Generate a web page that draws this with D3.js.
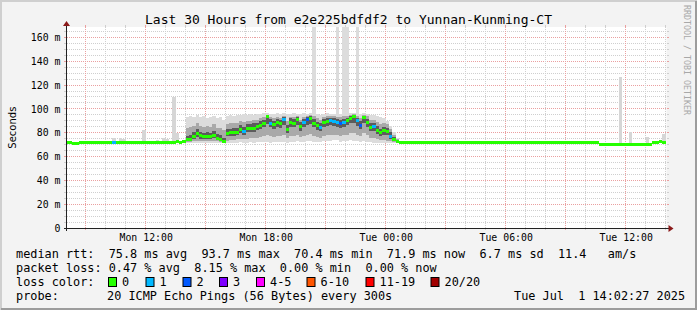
<!DOCTYPE html>
<html>
<head>
<meta charset="utf-8">
<script src="https://cdn.jsdelivr.net/npm/d3@7"></script>
<style>
  body { margin: 0; background: #f3f3f3; }
  svg { display: block; }
  text { font-family: "DejaVu Sans Mono", monospace; fill: #000; }
</style>
</head>
<body>
<svg id="chart" width="697" height="310"></svg>
<script>
/******** Data ********/
var startTime = new Date(2025, 5, 30, 8, 2, 27);
var endTime = new Date(2025, 6, 1, 14, 2, 27);
var firstSample = new Date(2025, 5, 30, 8, 0, 0);
var stepMinutes = 10;

// median rtt in ms, one value per 10 minutes
var median = [
  72.0, 72.0, 71.3, 71.3, 72.0, 72.1, 72.0, 72.0, 72.1, 72.0, 72.0, 71.9,
  72.0, 72.0, 72.0, 72.0, 72.1, 72.0, 71.9, 72.0, 72.0, 72.0, 71.9, 72.0,
  72.1, 72.0, 72.0, 71.8, 72.0, 72.0, 72.2, 72.0, 72.1, 72.3, 72.2, 72.4,
  74.5, 74.5, 77.0, 79.5, 77.5, 76.5, 77.0, 76.5, 78.0, 75.5, 74.5, 72.5,
  79.5, 80.0, 80.0, 80.5, 83.0, 81.0, 83.5, 83.5, 84.0, 85.0, 86.5, 88.0,
  93.5, 88.0, 87.0, 88.5, 87.5, 91.0, 82.5, 89.0, 88.0, 90.9, 85.3, 88.5,
  91.0, 92.0, 88.0, 85.8, 84.6, 88.5, 89.3, 90.0, 89.5, 88.7, 87.5, 88.7,
  90.0, 92.0, 93.7, 90.0, 86.5, 92.5, 89.0, 84.6, 85.0, 82.3, 80.1, 81.7,
  81.0, 77.3, 74.4, 72.5,
  71.7, 71.6, 71.6, 71.7, 71.6, 71.7, 71.6, 71.6, 71.7, 71.6, 71.7, 71.7,
  71.6, 71.7, 71.7, 71.6, 71.7, 71.7, 71.6, 71.7, 71.8, 71.7, 71.7, 71.8,
  71.7, 71.8, 71.7, 71.8, 71.8, 71.7, 71.8, 71.9, 71.8, 71.8, 71.9, 71.8,
  71.9, 71.8, 71.9, 71.9, 71.8, 71.9, 72.0, 71.9, 71.9, 72.0, 71.9, 72.0,
  72.0, 71.9, 72.0, 72.0, 71.9, 72.0, 72.0, 71.9, 72.0, 72.0, 72.1, 72.0,
  70.6, 70.6, 70.5, 70.6, 70.6, 70.5, 70.6, 70.6, 70.5, 70.6, 70.5, 70.6,
  70.6, 70.5, 70.6, 70.6, 71.8, 71.9, 72.4, 71.9
];

// lost pings (out of 20) per sample
var loss = [
  0,0,0,0,0,0,0,0,0,0, 0,0,0,0,1,0,0,0,0,0,
  0,0,0,0,0,0,0,0,0,0, 0,0,0,0,0,0,0,0,0,0,
  0,0,0,0,0,0,0,0,0,0, 0,0,0,1,0,0,0,0,0,0,
  0,1,0,0,0,1,0,0,0,0, 0,1,2,0,0,0,1,0,0,1,
  1,1,2,1,0,0,0,1,2,0, 0,0,1,0,0,0,0,1,0,0,
  0,0,0,0,0,0,0,0,0,0, 0,0,0,0,0,0,0,0,0,0,
  0,0,0,0,0,0,0,0,0,0, 0,0,0,0,0,0,0,0,0,0,
  0,0,0,0,0,0,0,0,0,0, 0,0,0,0,0,0,0,0,0,0,
  0,0,0,0,0,0,0,0,0,0, 0,0,0,0,0,0,0,0,0,0
];

// smoke (ping spread) for the busy period, starting at sample 36
var busyStart = 36;
var smokeMax = [
  93, 94, 93, 95, 93, 94, 92, 93, 94, 92, 93, 91,
  94, 95, 94, 95, 95, 96, 95, 96, 95, 96, 96, 97,
  97, 96, 96, 97, 96, 97, 96, 96, 97, 96, 96, 97,
  96, 97, 200, 96, 95, 96, 97, 96, 96, 200, 96, 200,
  200, 97, 97, 200, 96, 97, 96, 95, 95, 94, 93, 92,
  90, 86, 81, 76
];
var smokeMin = [
  71.5, 71.5, 71.8, 71.5, 71.6, 71.5, 71.8, 71.6, 71.5, 71.7, 71.5, 71.4,
  71.6, 71.8, 71.5, 71.7, 72.0, 71.6, 71.8, 72.0, 71.7, 71.9, 72.2, 72.0,
  72.3, 71.8, 72.0, 72.4, 72.0, 72.5, 71.6, 72.2, 72.6, 72.8, 72.0, 72.4,
  73.0, 73.2, 72.5, 72.2, 72.0, 72.8, 73.5, 73.0, 74.0, 73.6, 72.5, 73.0,
  73.4, 74.0, 73.5, 72.8, 72.2, 73.0, 72.6, 72.0, 71.8, 71.6, 71.5, 71.4,
  71.3, 71.2, 71.2, 71.2
];
var smokeP10 = [
  72.5, 72.5, 73, 73.5, 73, 72.8, 73, 73, 73.5, 72.8, 72.5, 72,
  73.5, 74, 74, 74.5, 75, 74.5, 75, 75.5, 75.5, 76, 76.5, 77,
  78, 77, 76.5, 77.5, 77, 78, 75.5, 77.5, 77.5, 78.5, 76.5, 77.5,
  78.5, 79, 77.5, 76.5, 76, 77.5, 78, 78.5, 78.5, 78, 77.5, 78,
  78.5, 79.5, 80, 78.5, 77, 79.5, 78, 76, 76, 75, 74, 74,
  73.5, 73, 72.3, 71.8
];
var smokeP90 = [
  84, 85, 86, 88, 86, 85, 86, 85, 87, 84, 84, 82,
  87, 88, 88, 88, 90, 89, 90, 90, 91, 91, 92, 93,
  95, 93, 92, 93, 92, 94, 90, 93, 93, 94, 91, 93,
  94, 95, 94, 92, 91, 93, 94, 94, 94, 93, 93, 94,
  94, 95, 96, 94, 92, 95, 94, 91, 91, 89, 87, 88,
  87, 83, 78, 74.5
];
var smokeP30 = [
  73.2, 73.3, 74.8, 76.5, 75, 74.4, 75, 74.6, 75.8, 73.9, 73.3, 72.4,
  77, 77.5, 77.6, 78, 80, 78.5, 80.6, 80.8, 81, 82, 83.5, 84.8,
  87.5, 84.5, 83.6, 84.8, 84, 86.8, 79.5, 85.2, 84.6, 86.5, 81.8, 84.6,
  86.8, 87.5, 84.5, 82.5, 81.6, 85, 85.6, 86.2, 85.8, 85, 84, 85.2,
  86.2, 87.8, 88.6, 86, 83, 87.8, 85, 81.2, 81.4, 79, 77.5, 78.4,
  77.8, 75, 72.8, 71.9
];
var smokeP70 = [
  77.5, 78, 80.5, 83, 81, 80, 80.5, 79.5, 81.5, 79, 78, 76,
  83, 83.5, 83.8, 84.2, 86.5, 85, 87, 87, 87.8, 88.5, 89.8, 91,
  94.8, 91.3, 90.2, 91.6, 90.8, 93.4, 86.5, 92, 91.2, 93, 88.8, 91.6,
  93.5, 94, 91.3, 89.4, 88.2, 91.6, 92.2, 92.6, 92.3, 91.7, 90.8, 91.8,
  92.8, 94.2, 95.2, 92.8, 89.8, 94.4, 91.8, 88, 88.3, 85.8, 83.6, 85,
  84.2, 80.5, 76.5, 73.5
];

// isolated slow pings outside the busy period
var spikeIdx = [14, 16, 17, 23, 27, 29, 30, 32, 33, 166, 169, 174, 179];
var spikeMax = [75.5, 76, 75, 82, 74, 76, 75, 110, 80, 127, 81, 76.7, 79];

var lossLabels = ["0", "1", "2", "3", "4-5", "6-10", "11-19", "20/20"];
var lossColors = ["#26ff00", "#00b8ff", "#0059ff", "#7e00ff", "#ff00ff", "#ff5500", "#ff0000", "#a10000"];
var lossBoxX = [108, 145.5, 182.5, 219, 256, 306.5, 365.5, 430.5];

var yTicks = [0, 20, 40, 60, 80, 100, 120, 140, 160];

var legendLines = [
  "median rtt:  75.8 ms avg  93.7 ms max  70.4 ms min  71.9 ms now  6.7 ms sd  11.4   am/s",
  "packet loss: 0.47 % avg  8.15 % max  0.00 % min  0.00 % now"
];

/******** Layout ********/
var plotLeft = 66.5, plotRight = 666.5, plotTop = 27, plotBottom = 228.3;

var x = d3.scaleTime().domain([startTime, endTime]).range([plotLeft, plotRight]);
var y = d3.scaleLinear().domain([0, 160]).range([plotBottom, 37.3]);

var svg = d3.select("#chart");

function crisp(v) { return Math.round(v - 0.5) + 0.5; }
function sampleTime(i) { return new Date(firstSample.getTime() + i * stepMinutes * 60000); }
function lossColor(n) {
  if (n <= 3) return lossColors[n];
  if (n <= 5) return lossColors[4];
  if (n <= 10) return lossColors[5];
  if (n <= 19) return lossColors[6];
  return lossColors[7];
}

// frame
svg.append("rect").attr("width", 697).attr("height", 310).attr("fill", "#f3f3f3");
svg.append("path").attr("d", "M1,310V1H697").attr("fill", "none").attr("stroke", "#cfcfcf").attr("stroke-width", 2);
svg.append("path").attr("d", "M1,309H696V1").attr("fill", "none").attr("stroke", "#9c9c9c").attr("stroke-width", 2);

// canvas
svg.append("rect")
  .attr("x", plotLeft).attr("y", plotTop)
  .attr("width", plotRight - plotLeft).attr("height", plotBottom - plotTop)
  .attr("fill", "#ffffff");

/******** Grid ********/
var grid = svg.append("g").attr("shape-rendering", "crispEdges");

var minorY = d3.range(5, 170, 5).filter(v => v % 20 !== 0 && y(v) >= plotTop);
var majorY = yTicks.filter(v => v > 0);

function hLine(v, color) {
  var yy = crisp(y(v));
  grid.append("line").attr("x1", plotLeft).attr("x2", plotRight).attr("y1", yy).attr("y2", yy)
    .attr("stroke", color).attr("stroke-dasharray", "1,1");
  grid.append("line").attr("x1", plotLeft - 3).attr("x2", plotLeft).attr("y1", yy).attr("y2", yy).attr("stroke", color);
  grid.append("line").attr("x1", plotRight).attr("x2", plotRight + 2).attr("y1", yy).attr("y2", yy).attr("stroke", color);
}
function vLine(t, color) {
  var xx = crisp(x(t));
  grid.append("line").attr("x1", xx).attr("x2", xx).attr("y1", plotTop).attr("y2", plotBottom)
    .attr("stroke", color).attr("stroke-dasharray", "1,1");
  grid.append("line").attr("x1", xx).attr("x2", xx).attr("y1", plotBottom).attr("y2", plotBottom + 2).attr("stroke", color);
  grid.append("line").attr("x1", xx).attr("x2", xx).attr("y1", plotTop - 2).attr("y2", plotTop).attr("stroke", color);
}

minorY.forEach(v => hLine(v, "#cfcfcf"));
majorY.forEach(v => hLine(v, "#eaa0a0"));

var hours = d3.timeHour.range(startTime, endTime);
hours.filter(t => t.getHours() % 3 !== 0).forEach(t => vLine(t, "#cfcfcf"));
hours.filter(t => t.getHours() % 3 === 0).forEach(t => vLine(t, "#eaa0a0"));

/******** Smoke ********/
svg.append("clipPath").attr("id", "plotclip")
  .append("rect").attr("x", plotLeft).attr("y", plotTop)
  .attr("width", plotRight - plotLeft).attr("height", plotBottom - plotTop);

var smoke = svg.append("g").attr("clip-path", "url(#plotclip)").attr("shape-rendering", "crispEdges");

function smokeBand(lo, hi, color) {
  smoke.selectAll(null)
    .data(d3.range(lo.length))
    .enter().append("rect")
    .attr("x", k => x(sampleTime(busyStart + k)))
    .attr("width", k => x(sampleTime(busyStart + k + 1)) - x(sampleTime(busyStart + k)))
    .attr("y", k => y(hi[k]))
    .attr("height", k => y(lo[k]) - y(hi[k]))
    .attr("fill", color);
}
smokeBand(smokeMin, smokeMax, "#dcdcdc");
smokeBand(smokeP10, smokeP90, "#a9a9a9");
smokeBand(smokeP30, smokeP70, "#5c5c5c");

smoke.selectAll(null)
  .data(spikeIdx)
  .enter().append("rect")
  .attr("x", (d) => x(sampleTime(d)))
  .attr("width", (d) => x(sampleTime(d + 1)) - x(sampleTime(d)))
  .attr("y", (d, i) => y(spikeMax[i]))
  .attr("height", (d, i) => y(median[d]) - y(spikeMax[i]))
  .attr("fill", "#d6d6d6");

/******** Median ********/
smoke.selectAll(null)
  .data(median)
  .enter().append("rect")
  .attr("x", (d, i) => x(sampleTime(i)))
  .attr("width", (d, i) => x(sampleTime(i + 1)) - x(sampleTime(i)))
  .attr("y", d => y(d) - 1.5)
  .attr("height", 3)
  .attr("fill", (d, i) => lossColor(loss[i]));

/******** Axes ********/
var axisColor = "#222";
svg.append("line").attr("x1", plotLeft - 3).attr("x2", plotRight + 3)
  .attr("y1", crisp(plotBottom)).attr("y2", crisp(plotBottom))
  .attr("stroke", axisColor).attr("shape-rendering", "crispEdges");
svg.append("line").attr("x1", crisp(plotLeft)).attr("x2", crisp(plotLeft))
  .attr("y1", plotBottom + 3).attr("y2", plotTop - 3)
  .attr("stroke", axisColor).attr("shape-rendering", "crispEdges");
// arrows
var ab = crisp(plotBottom), al = crisp(plotLeft);
svg.append("path").attr("d", `M${plotRight + 2},${ab - 3.5}L${plotRight + 7},${ab}L${plotRight + 2},${ab + 3.5}Z`)
  .attr("fill", "#8b1a1a");
svg.append("path").attr("d", `M${al - 3.5},${plotTop - 1}L${al},${plotTop - 6}L${al + 3.5},${plotTop - 1}Z`)
  .attr("fill", "#8b1a1a");

var xAxis = d3.axisBottom(x)
  .ticks(d3.timeHour.every(6))
  .tickFormat(d3.timeFormat("%a %H:%M"))
  .tickSize(0)
  .tickPadding(6);
var xAxisGroup = svg.append("g")
  .attr("transform", "translate(0," + plotBottom + ")")
  .call(xAxis);
xAxisGroup.select(".domain").remove();
xAxisGroup.selectAll("text")
  .attr("font-family", "DejaVu Sans Mono")
  .attr("font-size", "9.85px")
  .attr("fill", "#000");

var yAxis = d3.axisLeft(y)
  .tickValues(yTicks)
  .tickFormat(d => d === 0 ? "0" : d + " m")
  .tickSize(0)
  .tickPadding(6);
var yAxisGroup = svg.append("g")
  .attr("transform", "translate(" + plotLeft + ",0)")
  .call(yAxis);
yAxisGroup.select(".domain").remove();
yAxisGroup.selectAll("text")
  .attr("font-family", "DejaVu Sans Mono")
  .attr("font-size", "9.85px")
  .attr("fill", "#000");

/******** Titles ********/
svg.append("text")
  .attr("x", 348.5).attr("y", 19).attr("dy", "0.35em")
  .attr("text-anchor", "middle")
  .style("font-size", "13px")
  .text("Last 30 Hours from e2e225bdfdf2 to Yunnan-Kunming-CT");

svg.append("text")
  .attr("transform", "translate(12," + ((plotTop + plotBottom) / 2) + ") rotate(-90)")
  .attr("text-anchor", "middle").attr("dy", "0.35em")
  .style("font-family", "'DejaVu Sans', sans-serif")
  .style("font-size", "10px")
  .text("Seconds");

svg.append("text")
  .attr("transform", "translate(687,5) rotate(90)")
  .attr("dy", "0.35em")
  .style("font-size", "8.3px")
  .style("fill", "#a8a8a8")
  .text("RRDTOOL / TOBI OETIKER");

/******** Legend ********/
var legendFont = "11.85px";
legendLines.forEach(function (line, i) {
  svg.append("text")
    .attr("x", 16).attr("y", 254.3 + i * 14).attr("dy", "0.35em")
    .style("font-size", legendFont)
    .style("white-space", "pre")
    .text(line);
});

svg.append("text")
  .attr("x", 16).attr("y", 282.3).attr("dy", "0.35em")
  .style("font-size", legendFont)
  .text("loss color:");

lossLabels.forEach(function (label, i) {
  svg.append("rect")
    .attr("x", lossBoxX[i] + 0.5).attr("y", 277.5)
    .attr("width", 8).attr("height", 9)
    .attr("fill", lossColors[i])
    .attr("stroke", "#000");
  svg.append("text")
    .attr("x", lossBoxX[i] + 14).attr("y", 282.3).attr("dy", "0.35em")
    .style("font-size", legendFont)
    .text(label);
});

svg.append("text")
  .attr("x", 16).attr("y", 296.3).attr("dy", "0.35em")
  .style("font-size", legendFont)
  .text("probe:");
svg.append("text")
  .attr("x", 107).attr("y", 296.3).attr("dy", "0.35em")
  .style("font-size", legendFont)
  .text("20 ICMP Echo Pings (56 Bytes) every 300s");
svg.append("text")
  .attr("x", 514).attr("y", 296.3).attr("dy", "0.35em")
  .style("font-size", legendFont)
  .style("white-space", "pre")
  .text("Tue Jul  1 14:02:27 2025");
</script>
</body>
</html>
